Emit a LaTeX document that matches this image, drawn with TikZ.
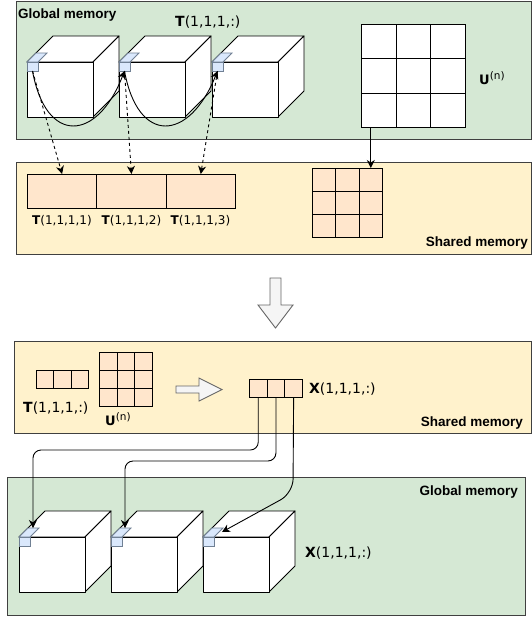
\documentclass[tikz,border=0pt]{standalone}
\usepackage{fontspec}
\setmainfont{DejaVu Sans}
\newfontfamily\memfont{Liberation Sans}
\usetikzlibrary{arrows.meta,calc}
\definecolor{gfill}{HTML}{D5E8D4}
\definecolor{yfill}{HTML}{FFF2CC}
\definecolor{pfill}{HTML}{FFE6CC}
\definecolor{bfill}{HTML}{DAE8FC}
\definecolor{bline}{HTML}{708094}
\definecolor{harrow}{HTML}{F5F5F5}
\definecolor{hline}{HTML}{666666}
\newcommand\Un{\textbf{U}\raisebox{5pt}{\fontsize{10.5}{12}\selectfont(n)}}
\tikzset{
 panel/.style={draw=black!75, line width=1.2pt, inner sep=0, anchor=north west},
 memlabel/.style={inner sep=0, font={\memfont\bfseries\fontsize{13.5}{16}\selectfont}},
 idx/.style={inner sep=0, anchor=base west, font={\fontsize{14}{16}\selectfont}},
 idxs/.style={inner sep=0, anchor=base, font={\fontsize{12}{14}\selectfont}},
 pcell/.style={draw=black, fill=pfill, line width=0.9pt, inner sep=0, anchor=north west},
 wcell/.style={draw=black, fill=white, line width=0.9pt, inner sep=0, anchor=north west},
 cubeline/.style={draw=black, fill=white, line width=0.9pt, line join=round},
 arr/.style={-{Stealth[length=8pt,width=8pt,inset=2.5pt]}, line width=0.9pt},
 dasharr/.style={arr, dash pattern=on 3pt off 3pt},
 hollow/.style={draw=hline, fill=harrow, line width=0.9pt, line join=miter},
 marker/.style={draw=bline, fill=bfill, line width=0.8pt},
}
\newcommand\mycube[3]{%
  \draw[cubeline] (#1,#2) -- ++(26,-26) -- ++(66,0) -- ++(-26,26) -- cycle;
  \draw[cubeline] (#1+66,#2) -- ++(26,-26) -- ++(0,55) -- ++(-26,26) -- cycle;
  \draw[cubeline] (#1,#2) rectangle ++(66,55);
  \draw[marker] (#1,#2) -- ++(9,-9) -- ++(11,0) -- ++(-9,9) -- cycle;
  \draw[marker] (#1,#2) rectangle ++(11,9);
  \coordinate (#3) at (#1+5.5,#2+9);
  \coordinate (#3t) at (#1+14,#2-9);
}
\begin{document}
\begin{tikzpicture}[x=1pt,y=-1pt]
\useasboundingbox (0,0) rectangle (532,622);
% panels
\node[panel, fill=gfill, minimum width=515pt, minimum height=138pt] (gtop) at (16,1) {};
\node[panel, fill=yfill, minimum width=515pt, minimum height=92pt] (stop) at (16,162) {};
\node[panel, fill=yfill, minimum width=517pt, minimum height=92pt] (smid) at (14,341) {};
\node[panel, fill=gfill, minimum width=518pt, minimum height=138pt] (gbot) at (7,477) {};
% memory labels
\node[memlabel, anchor=base west] (lg1) at (18,18) {Global memory};
\node[memlabel, anchor=base east] (ls1) at (528,246) {Shared memory};
\node[memlabel, anchor=base east] (ls2) at (523,426) {Shared memory};
\node[memlabel, anchor=base east] (lg2) at (518,495) {Global memory};
% top cubes
\mycube{27}{62}{m1}
\mycube{119}{62}{m2}
\mycube{212}{62}{m3}
% bottom cubes
\mycube{19}{537}{n1}
\mycube{111}{537}{n2}
\mycube{203}{537}{n3}
% top U grid
\foreach \r in {1,2,3}{\foreach \c in {1,2,3}{
  \node[wcell, minimum width=34.67pt, minimum height=34.33pt] (U\r\c) at ({361+(\c-1)*34.67},{24+(\r-1)*34.33}) {};
}}
% shared grid
\foreach \r in {1,2,3}{\foreach \c in {1,2,3}{
  \node[pcell, minimum width=23.33pt, minimum height=23pt] (S\r\c) at ({312+(\c-1)*23.33},{168+(\r-1)*23}) {};
}}
% mid U grid
\foreach \r in {1,2,3}{\foreach \c in {1,2,3}{
  \node[pcell, minimum width=17.67pt, minimum height=18pt] (M\r\c) at ({99+(\c-1)*17.67},{352+(\r-1)*18}) {};
}}
% shared boxes
\foreach \c in {1,2,3}{
  \node[pcell, minimum width=69.33pt, minimum height=34pt] (B\c) at ({27+(\c-1)*69.33},174) {};
  \node[pcell, minimum width=17.33pt, minimum height=18pt] (TR\c) at ({36+(\c-1)*17.33},370) {};
  \node[pcell, minimum width=17.67pt, minimum height=18pt] (X\c) at ({249+(\c-1)*17.67},379) {};
}
% hollow arrows
\draw[hollow] (270,278) -- (281,278) -- (281,305) -- (293,305) -- (275.5,328) -- (258,305) -- (270,305) -- cycle;
\draw[hollow] (176,386) -- (199,386) -- (199,378) -- (222,389.5) -- (199,401) -- (199,393) -- (176,393) -- cycle;
% labels
\node[idx] (lT) at (175,26.5) {\textbf{T}(1,1,1,:)};
\node[idx, font={\fontsize{13}{15}\selectfont}] (lU) at (479,84) {\Un};
\node[idxs] (lb1) at (62,224) {\textbf{T}(1,1,1,1)};
\node[idxs] (lb2) at (131.5,224) {\textbf{T}(1,1,1,2)};
\node[idxs] (lb3) at (200.5,224) {\textbf{T}(1,1,1,3)};
\node[idx] (lT2) at (23,412) {\textbf{T}(1,1,1,:)};
\node[idx, font={\fontsize{13}{15}\selectfont}] (lU2) at (105,425) {\Un};
\node[idx] (lX) at (309,393) {\textbf{X}(1,1,1,:)};
\node[idx] (lX2) at (305,557) {\textbf{X}(1,1,1,:)};
% connectors top
\draw[arr] (m1) .. controls (46,145) and (97,142) .. (m2);
\draw[arr] (m2) .. controls (138,145) and (189,142) .. (m3);
\draw[dasharr] (m1) -- (B1.north);
\draw[dasharr] (m2) -- (B2.north);
\draw[dasharr] (m3) -- (B3.north);
\draw[arr] (S13.north |- U31.south) -- (S13.north);
% connectors bottom
\coordinate (k1) at (33,450);
\coordinate (k2) at (125,461);
\coordinate (k3) at (293,493);
\draw[arr, rounded corners=8pt] (X1.south) |- (k1) -- (n1t);
\draw[arr, rounded corners=8pt] (X2.south) |- (k2) -- (n2t);
\draw[arr, rounded corners=14pt] (X3.south) -- (k3) -- ($(n3t)+(5,4)$);
\end{tikzpicture}
\end{document}
